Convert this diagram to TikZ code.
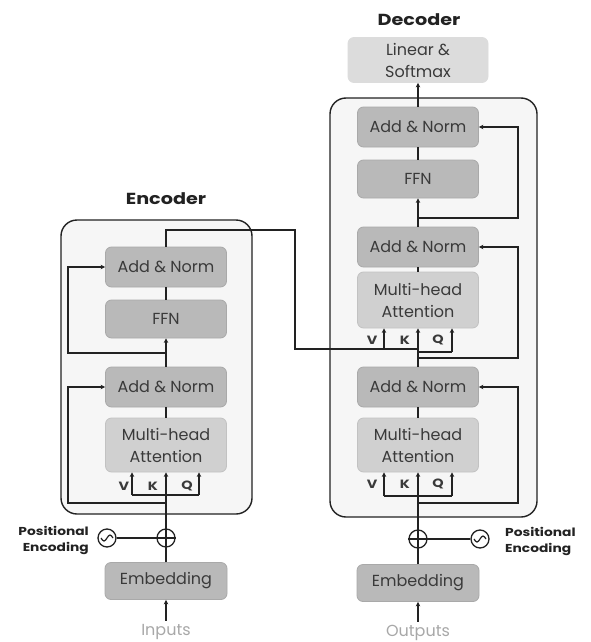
\documentclass[tikz,border=0pt]{standalone}
\usepackage{fontspec}
\setmainfont{Poppins}
\newfontfamily\widefont{Poppins}[FakeStretch=1.2]
\usetikzlibrary{arrows.meta,positioning}
\definecolor{dark}{HTML}{B9B9B9}
\definecolor{darkedge}{HTML}{A9A9A9}
\definecolor{mid}{HTML}{D0D0D0}
\definecolor{midedge}{HTML}{C2C2C2}
\definecolor{light}{HTML}{DCDCDC}
\definecolor{boxbg}{HTML}{F6F6F6}
\definecolor{ink}{HTML}{222222}
\definecolor{txt}{HTML}{3A3A3A}
\definecolor{faint}{HTML}{A8A8A8}
\tikzset{
  blk/.style={rounded corners=6pt, line width=0.8pt, minimum width=121pt, text=txt, font=\fontsize{16}{22}\selectfont, align=center, inner sep=0pt},
  darkblk/.style={blk, fill=dark, draw=darkedge, minimum height=40pt},
  midblk/.style={blk, fill=mid, draw=midedge, minimum height=55pt},
  outer/.style={rounded corners=16pt, line width=1.4pt, draw=ink, fill=boxbg},
  conn/.style={line width=1.3pt, draw=ink},
  arr/.style={conn, -{Stealth[length=4.5pt,width=4.5pt]}},
  vkq/.style={font=\widefont\bfseries\fontsize{12}{13}\selectfont, text=txt, inner sep=0pt},
  title/.style={font=\widefont\bfseries\fontsize{16}{18}\selectfont, text=ink},
  pe/.style={font=\widefont\bfseries\fontsize{11.5}{16}\selectfont, text=ink, inner sep=0pt},
  ring/.style={circle, draw=ink, line width=1.3pt, minimum size=18pt, inner sep=0pt},
  io/.style={font=\fontsize{16}{18}\selectfont, text=faint},
  wave/.style={ink, line width=1.2pt},
}
\begin{document}
\begin{tikzpicture}[x=1pt,y=-1pt]
\useasboundingbox (0,0) rectangle (591,642);
\fill[white] (0,0) rectangle (591,642);

% ---------------- Encoder ----------------
\node[title] (enctitle) at (166,199) {Encoder};
\draw[outer] (61,220) rectangle (252,514);
\node[darkblk] (ean2) at (166,267) {Add \& Norm};
\node[darkblk, minimum height=38pt] (effn) at (166,319) {FFN};
\node[darkblk] (ean1) at (166,387) {Add \& Norm};
\node[midblk, minimum height=54pt] (emha) at (166,445) {Multi-head\\Attention};
\node[darkblk, minimum width=122pt, minimum height=37pt] (eemb) at (166,581) {Embedding};
\node[ring] (eplus) at (166,538) {};
\node[ring] (esin) at (107,538) {};
\node[pe, align=right, anchor=east] (epe) at (89,540) {Positional\\Encoding};
\node[io] (einp) at (166,632) {Inputs};
\node[vkq] (ev) at (124,486) {V};
\node[vkq] (ek) at (153,486) {K};
\node[vkq] (eq) at (187,486) {Q};
\coordinate (evb) at (132,495);
\coordinate (eqb) at (199,495);
\coordinate (eres1) at (166,503);
\coordinate (eres1l) at (68,503);
\coordinate (eres2) at (166,353);
\coordinate (eres2l) at (68,353);
\coordinate (eout1) at (166,230);
\coordinate (eout2) at (295,230);
\coordinate (eout3) at (295,349);

% ---------------- Decoder ----------------
\node[title] (dectitle) at (419,20) {Decoder};
\draw[outer] (330,98) rectangle (537,517);
\node[blk, fill=light, draw=light, minimum width=140pt, minimum height=45pt] (dls) at (418,60) {Linear \&\\Softmax};
\node[darkblk] (dan3) at (418,127) {Add \& Norm};
\node[darkblk, minimum height=38pt] (dffn) at (418,179) {FFN};
\node[darkblk] (dan2) at (418,247) {Add \& Norm};
\node[midblk, minimum height=56pt] (dmha2) at (418,300) {Multi-head\\Attention};
\node[darkblk] (dan1) at (418,387) {Add \& Norm};
\node[midblk, minimum height=54pt] (dmha1) at (418,445) {Multi-head\\Attention};
\node[darkblk, minimum width=122pt, minimum height=37pt] (demb) at (418,583) {Embedding};
\node[ring] (dplus) at (418,539) {};
\node[ring] (dsin) at (480,539) {};
\node[pe, align=left, anchor=west] (dpe) at (505,541) {Positional\\Encoding};
\node[io] (dout) at (418,633) {Outputs};
% lower attention inputs
\node[vkq] (dv1) at (372,484) {V};
\node[vkq] (dk1) at (405,484) {K};
\node[vkq] (dq1) at (438,484) {Q};
\coordinate (dv1b) at (384,496);
\coordinate (dq1b) at (452,496);
\coordinate (dres1) at (418,503);
\coordinate (dres1r) at (518,503);
% upper attention inputs
\node[vkq] (dv2) at (372,340) {V};
\node[vkq] (dk2) at (405,340) {K};
\node[vkq] (dq2) at (438,340) {Q};
\coordinate (dv2b) at (384,349);
\coordinate (dk2b) at (418,349);
\coordinate (dq2a) at (418,352);
\coordinate (dq2b) at (452,352);
\coordinate (dres2) at (418,358);
\coordinate (dres2r) at (518,358);
\coordinate (dres3) at (418,218);
\coordinate (dres3r) at (518,218);

% ---------------- Encoder connectors ----------------
\draw[arr] (einp.north) -- (eemb.south);
\draw[conn] (eemb.north) -- (eplus.south);
\draw[conn] (eplus.south) -- (eplus.north);
\draw[arr] (eplus.north) -- (emha.south);
\draw[conn] (eplus.west) -- (eplus.east);
\draw[conn] (esin.east) -- (eplus.west);
\draw[conn] (evb) -- (eqb);
\draw[arr] (evb) -- (evb |- emha.south);
\draw[arr] (eqb) -- (eqb |- emha.south);
\draw[arr] (eres1) -- (eres1l) |- (ean1.west);
\draw[conn] (emha.north) -- (ean1.south);
\draw[arr] (ean1.north) -- (effn.south);
\draw[arr] (eres2) -- (eres2l) |- (ean2.west);
\draw[conn] (effn.north) -- (ean2.south);
\draw[conn] (ean2.north) -- (eout1) -- (eout2) -- (eout3) -- (dk2b);

% ---------------- Decoder connectors ----------------
\draw[arr] (dout.north) -- (demb.south);
\draw[conn] (demb.north) -- (dplus.south);
\draw[conn] (dplus.south) -- (dplus.north);
\draw[arr] (dplus.north) -- (dmha1.south);
\draw[conn] (dplus.west) -- (dplus.east);
\draw[conn] (dplus.east) -- (dsin.west);
\draw[conn] (dv1b) -- (dq1b);
\draw[arr] (dv1b) -- (dv1b |- dmha1.south);
\draw[arr] (dq1b) -- (dq1b |- dmha1.south);
\draw[arr] (dres1) -- (dres1r) |- (dan1.east);
\draw[conn] (dmha1.north) -- (dan1.south);
\draw[arr] (dan1.north) -- (dmha2.south);
\draw[arr] (dv2b) -- (dv2b |- dmha2.south);
\draw[conn] (dq2a) -- (dq2b);
\draw[arr] (dq2b) -- (dq2b |- dmha2.south);
\draw[arr] (dres2) -- (dres2r) |- (dan2.east);
\draw[conn] (dmha2.north) -- (dan2.south);
\draw[arr] (dan2.north) -- (dffn.south);
\draw[arr] (dres3) -- (dres3r) |- (dan3.east);
\draw[conn] (dffn.north) -- (dan3.south);
\draw[arr] (dan3.north) -- (dls.south);

% sine waves
\draw[wave] ([xshift=-6pt]esin.center) sin ([xshift=-3pt,yshift=-3pt]esin.center) cos (esin.center) sin ([xshift=3pt,yshift=3pt]esin.center) cos ([xshift=6pt]esin.center);
\draw[wave] ([xshift=-6pt]dsin.center) sin ([xshift=-3pt,yshift=-3pt]dsin.center) cos (dsin.center) sin ([xshift=3pt,yshift=3pt]dsin.center) cos ([xshift=6pt]dsin.center);
\end{tikzpicture}
\end{document}
